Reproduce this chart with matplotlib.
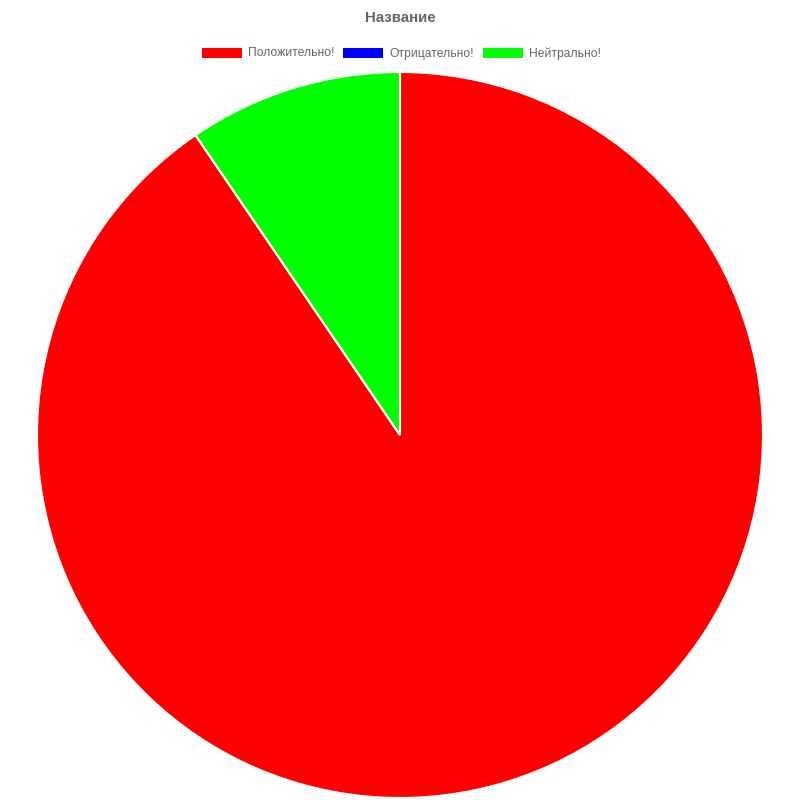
import matplotlib
matplotlib.use("Agg")
import matplotlib.pyplot as plt
from matplotlib.patches import Rectangle

labels = ["Положительно!", "Отрицательно!", "Нейтрально!"]
values = [19, 0, 2]
colors = ["#ff0000", "#0000ff", "#00ff00"]
title = "Название"

W = H = 800
fig = plt.figure(figsize=(8, 8), dpi=100)
plt.rcParams['font.family'] = ['Liberation Sans', 'DejaVu Sans']

cx, cy, r = 400, 435, 363
ax = fig.add_axes([(cx - r) / W, (H - cy - r) / H, 2 * r / W, 2 * r / H])
ax.pie(values, colors=colors, startangle=90, counterclock=False,
       wedgeprops=dict(edgecolor="white", linewidth=1.5), radius=1)
ax.set_xlim(-1, 1)
ax.set_ylim(-1, 1)
ax.set_aspect("equal")
ax.axis("off")

fig.text(400 / W, 1 - 18 / H, title, ha="center", va="center",
         fontsize=10.8, fontweight="bold", color="#666666")

box_x = [202, 343, 483]
for lab, col, bx in zip(labels, colors, box_x):
    fig.patches.append(Rectangle((bx / W, 1 - 58 / H), 40 / W, 10 / H,
                                 transform=fig.transFigure, facecolor=col,
                                 edgecolor="none"))
    fig.text((bx + 46) / W, 1 - 53.5 / H, lab, ha="left", va="center",
             fontsize=8.7, color="#666666")

fig.savefig("out.png", dpi=100)
